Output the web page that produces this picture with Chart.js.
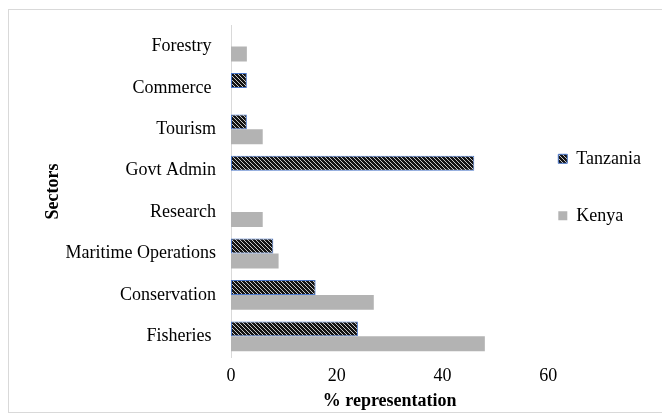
<!DOCTYPE html>
<html><head><meta charset="utf-8">
<script src="https://cdn.jsdelivr.net/npm/chart.js@4/dist/chart.umd.min.js"></script>
<style>html,body{margin:0;padding:0;background:#fff;overflow:hidden;}</style>
</head><body>
<canvas id="c" width="662" height="414"></canvas>
<script>
// ---- data ----
const sectors = ['Forestry ', 'Commerce ', 'Tourism', 'Govt Admin', 'Research', 'Maritime Operations', 'Conservation', 'Fisheries '];
const tanzania = [null, 3, 3, 46, null, 8, 16, 24];
const kenya = [3, null, 6, null, 6, 9, 27, 48];
const xTickValues = [0, 20, 40, 60];
const seriesNames = ['Tanzania', 'Kenya'];

const FONT = "'Liberation Serif', 'Times New Roman', serif";
const canvas = document.getElementById('c');
const ctx = canvas.getContext('2d');

function makeHatch() {
  const t = document.createElement('canvas');
  t.width = 4; t.height = 4;
  const g = t.getContext('2d');
  g.fillStyle = '#141414';
  g.fillRect(0, 0, 4, 4);
  g.fillStyle = '#c8c8c8';
  for (let i = 0; i < 4; i++) g.fillRect(i, i, 1, 1);
  return ctx.createPattern(t, 'repeat');
}
const hatch = makeHatch();

const frame = {
  id: 'frame',
  beforeDraw(chart) {
    const c = chart.ctx;
    c.save();
    c.fillStyle = '#fff';
    c.fillRect(0, 0, chart.width, chart.height);
    c.strokeStyle = '#d9d9d9';
    c.lineWidth = 1;
    c.strokeRect(8.5, 9.5, 700, 403);
    c.restore();
  }
};

new Chart(ctx, {
  type: 'bar',
  data: {
    labels: sectors,
    datasets: [
      { label: seriesNames[0], data: tanzania, backgroundColor: hatch, borderColor: '#4a76c8', borderWidth: 1, borderSkipped: false },
      { label: seriesNames[1], data: kenya, backgroundColor: '#b3b3b3', borderWidth: 0 }
    ]
  },
  options: {
    indexAxis: 'y',
    responsive: false,
    devicePixelRatio: 1,
    animation: false,
    categoryPercentage: 0.72,
    barPercentage: 1.0,
    layout: { padding: { left: 30, top: 25, right: 11, bottom: 0 } },
    scales: {
      x: {
        type: 'linear', min: 0, max: 60,
        afterBuildTicks: s => { s.ticks = xTickValues.map(v => ({ value: v })); },
        grid: { display: false, drawTicks: false, tickLength: 0 },
        border: { display: false },
        ticks: { color: '#000', font: { family: FONT, size: 18 }, padding: 8 },
        title: { display: true, text: '% representation', color: '#000', font: { family: FONT, size: 18, weight: 'bold' }, padding: { top: 0, bottom: 2 } },
        afterFit: s => { s.height = 57; }
      },
      y: {
        grid: { display: false, drawTicks: false, tickLength: 0 },
        border: { display: true, color: '#d9d9d9', width: 1 },
        ticks: { color: '#000', font: { family: FONT, size: 18 }, padding: 15 },
        title: { display: true, text: 'Sectors', color: '#000', font: { family: FONT, size: 18, weight: 'bold' }, padding: { top: 13, bottom: 0 } },
        afterFit: s => { s.width = 201; }
      }
    },
    plugins: {
      tooltip: { enabled: false },
      legend: {
        position: 'right',
        align: 'start',
        fullSize: false,
        title: { display: true, text: '', font: { size: 10, lineHeight: 1 }, padding: { top: 104, bottom: 0 } },
        labels: {
          boxWidth: 9, boxHeight: 9, padding: 10, color: '#000',
          font: { family: FONT, size: 18, lineHeight: 47 / 18 },
          generateLabels: chart => Chart.defaults.plugins.legend.labels.generateLabels(chart).map(l => Object.assign(l, { text: [l.text] }))
        }
      }
    }
  },
  plugins: [frame]
});
</script>
</body></html>
